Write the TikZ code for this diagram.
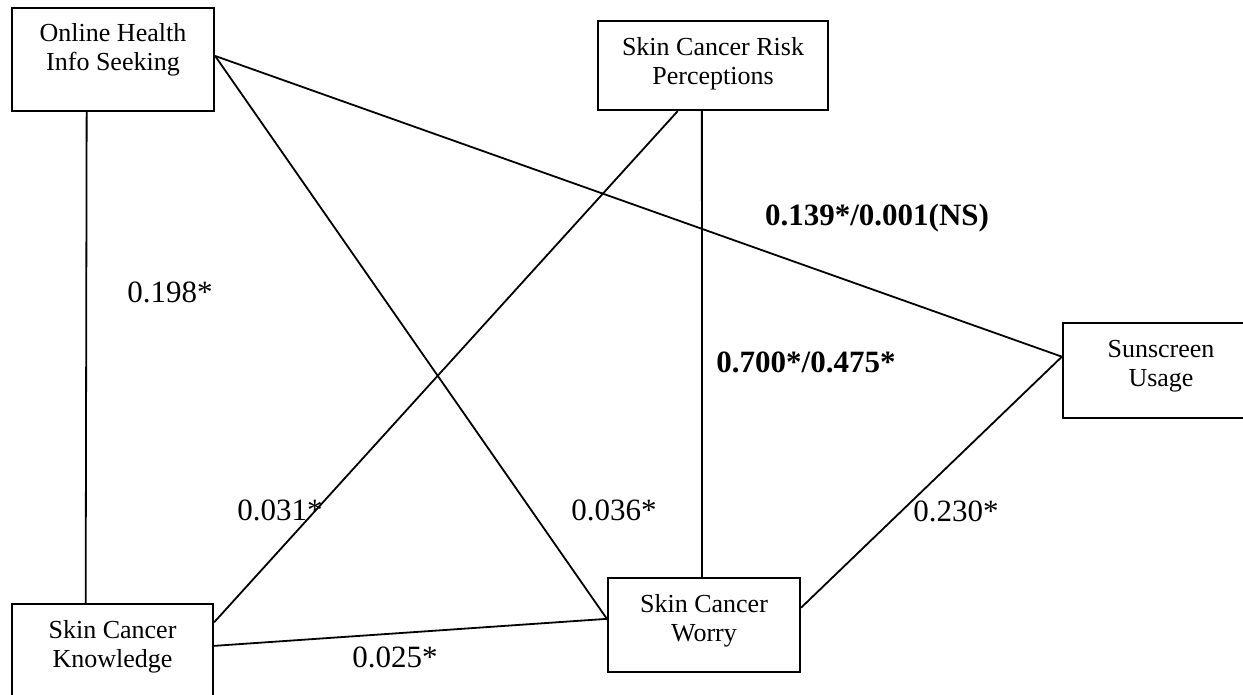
\documentclass[tikz,border=0pt]{standalone}
\usepackage{fontspec}
\setmainfont{Liberation Serif}
\usetikzlibrary{calc}
\begin{document}
\begin{tikzpicture}[x=1pt,y=-1pt,
  box/.style={draw, line width=2.2pt, rectangle, inner sep=0pt},
  boxtext/.style={align=center, inner sep=0pt, font=\fontsize{26}{29}\selectfont},
  path/.style={line width=1.8pt},
  coef/.style={inner sep=0pt, font=\fontsize{31}{36}\selectfont},
  coefb/.style={coef, font=\fontsize{31}{36}\selectfont\bfseries}]
\useasboundingbox (0,0) rectangle (1243,694);
\fill[white] (0,0) rectangle (1243,694);
\clip (0,0) rectangle (1243,694);

% construct boxes
\node[box, minimum width=202pt, minimum height=103pt] (ohis) at (113,59.5) {};
\node[boxtext] (ohist) at (113,50) {Online Health\\Info Seeking};

\node[box, minimum width=230pt, minimum height=89pt] (risk) at (713,65.5) {};
\node[boxtext] (riskt) at (713,64) {Skin Cancer Risk\\Perceptions};

\node[box, minimum width=196pt, minimum height=95pt] (sun) at (1161,370.5) {};
\node[boxtext] (sunt) at (1161,366) {Sunscreen\\Usage};

\node[box, minimum width=192pt, minimum height=94pt] (worry) at (704,625) {};
\node[boxtext] (worryt) at (704,621) {Skin Cancer\\Worry};

\node[box, minimum width=201pt, minimum height=96pt] (know) at (112.5,652) {};
\node[boxtext] (knowt) at (112.5,647) {Skin Cancer\\Knowledge};

% paths between constructs
\draw[path] ($(ohis.south west)!0.371!(ohis.south east)$) -- ($(know.north west)!0.368!(know.north east)$);
\draw[path] ($(ohis.north east)!0.466!(ohis.south east)$) -- ($(sun.north west)!0.358!(sun.south west)$);
\draw[path] ($(ohis.north east)!0.466!(ohis.south east)$) -- ($(worry.north west)!0.436!(worry.south west)$);
\draw[path] ($(risk.south west)!0.348!(risk.south east)$) -- ($(know.north east)!0.198!(know.south east)$);
\draw[path] ($(risk.south west)!0.452!(risk.south east)$) -- ($(worry.north west)!0.49!(worry.north east)$);
\draw[path] ($(know.north east)!0.4375!(know.south east)$) -- ($(worry.north west)!0.436!(worry.south west)$);
\draw[path] ($(worry.north east)!0.32!(worry.south east)$) -- ($(sun.north west)!0.358!(sun.south west)$);

% path coefficients
\node[coef] (c1) at (170,292) {0.198*};
\node[coefb] (c2) at (877,218) {0.139*/0.001(NS)};
\node[coefb] (c3) at (806,362) {0.700*/0.475*};
\node[coef] (c4) at (280,510) {0.031*};
\node[coef] (c5) at (614,510) {0.036*};
\node[coef] (c6) at (956,511) {0.230*};
\node[coef] (c7) at (395,657) {0.025*};
\end{tikzpicture}
\end{document}
